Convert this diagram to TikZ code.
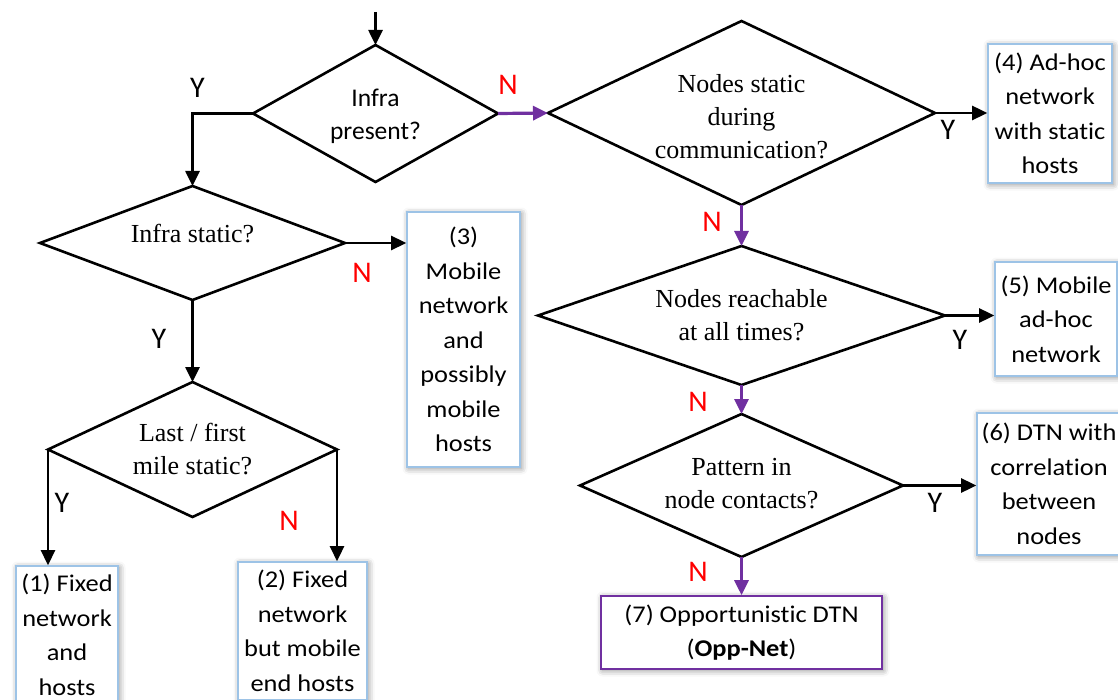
\documentclass[tikz,border=0pt]{standalone}
\usepackage{fontspec}
\setmainfont{Liberation Serif}
\newfontfamily\boxfont[FakeStretch=1.1,Ligatures=NoCommon]{Carlito}
\newfontfamily\ynfont[Ligatures=NoCommon]{Carlito}
\usetikzlibrary{arrows.meta,shapes.geometric,shadows.blur}
\definecolor{flowpurple}{HTML}{7030A0}
\definecolor{boxblue}{HTML}{9DC3E6}
\newcommand\boxtext{\boxfont\fontsize{24}{34.5}\selectfont}
\newcommand\qtext{\fontsize{26}{33}\selectfont}
\newcommand\yntext{\ynfont\fontsize{30}{30}\selectfont}

\begin{document}
\begin{tikzpicture}[x=1pt,y=-1pt,
  decision/.style={diamond, draw=black, line width=2.6pt, inner sep=0pt, outer sep=0pt},
  result/.style={rectangle, draw=boxblue, line width=1.6pt, fill=white, inner sep=0pt,
    align=center, font=\boxtext,
    blur shadow={shadow xshift=1.5pt, shadow yshift=-1.5pt, shadow blur radius=6pt, shadow opacity=45}},
  flow/.style={-{Triangle[length=15pt,width=14pt]}, line width=2.6pt, draw=black},
  noflow/.style={flow, draw=flowpurple, line width=3.2pt},
  yes/.style={font=\yntext, text=black, inner sep=0pt},
  no/.style={font=\yntext, text=red, inner sep=0pt}]

\useasboundingbox (0,0) rectangle (1118,700);
\clip (0,0) rectangle (1118,700);

% decisions
\node[decision, minimum width=245, minimum height=137,
  label={[align=center, font=\ynfont\fontsize{25.5}{33}\selectfont, yshift=-3pt]center:{Infra\\present?}}]
  (d1) at (375.5,113.5) {};
\node[decision, minimum width=305, minimum height=114,
  label={[align=center, font=\qtext, yshift=9pt]center:{Infra static?}}]
  (d2) at (192.5,243) {};
\node[decision, minimum width=387, minimum height=184,
  label={[align=center, font=\qtext, yshift=-3.5pt]center:{Nodes static\\during\\communication?}}]
  (d3) at (741.5,113) {};
\node[decision, minimum width=407, minimum height=139,
  label={[align=center, font=\qtext]center:{Nodes reachable\\at all times?}}]
  (d4) at (741.5,315.5) {};
\node[decision, minimum width=323, minimum height=143,
  label={[align=center, font=\qtext, yshift=1.5pt]center:{Pattern in\\node contacts?}}]
  (d5) at (741.5,485.5) {};
\node[decision, minimum width=289, minimum height=135,
  label={[align=center, font=\qtext]center:{Last / first\\mile static?}}]
  (d6) at (192.5,449.5) {};

% outcomes
\node[result, minimum width=102, minimum height=138] (b1) at (67,635)
  {(1) Fixed\\network\\and\\hosts};
\node[result, minimum width=129, minimum height=138] (b2) at (302.5,631)
  {(2) Fixed\\network\\but mobile\\end hosts};
\node[result, minimum width=113, minimum height=255] (b3) at (463.5,339.5)
  {(3)\\Mobile\\network\\and\\possibly\\mobile\\hosts};
\node[result, minimum width=124, minimum height=139] (b4) at (1050,113.5)
  {(4) Ad-hoc\\network\\with static\\hosts};
\node[result, minimum width=122, minimum height=114] (b5) at (1056,319)
  {(5) Mobile\\ad-hoc\\network};
\node[result, minimum width=144, minimum height=142] (b6) at (1049,484)
  {(6) DTN with\\correlation\\between\\nodes};
\node[result, draw=flowpurple, minimum width=281, minimum height=73] (b7) at (741.5,632.5)
  {(7) Opportunistic DTN\\(\textbf{Opp-Net})};

% connectors
\coordinate (start) at (375.5,12);
\draw[flow] (start) -- (d1.north);
\draw[flow] (d1.west) -| (d2.north);
\draw[noflow] (d1.east) -- (d3.west);
\draw[flow] (d3.east) -- (d3.east -| b4.west);
\draw[noflow] (d3.south) -- (d4.north);
\draw[flow] (d4.east) -- (d4.east -| b5.west);
\draw[noflow] (d4.south) -- (d5.north);
\draw[flow] (d5.east) -- (d5.east -| b6.west);
\draw[noflow] (d5.south) -- (b7.north);
\draw[flow] (d2.east) -- (d2.east -| b3.west);
\draw[flow] (d2.south) -- (d6.north);
\draw[flow] (d6.west) -- (d6.west |- b1.north);
\draw[flow] (d6.east) -- (d6.east |- b2.north);

% branch labels
\node[yes] (y1) at (197.5,88) {Y};
\node[no]  (n1) at (508,84.5) {N};
\node[yes] (y3) at (948,130) {Y};
\node[no]  (n3) at (712,222) {N};
\node[yes] (y4) at (960,340) {Y};
\node[no]  (n4) at (698,402) {N};
\node[yes] (y5) at (935,503) {Y};
\node[no]  (n5) at (698,572) {N};
\node[no]  (n2) at (362,273) {N};
\node[yes] (y2) at (159,339) {Y};
\node[yes] (y6) at (62,503) {Y};
\node[no]  (n6) at (289,521) {N};
\end{tikzpicture}
\end{document}
